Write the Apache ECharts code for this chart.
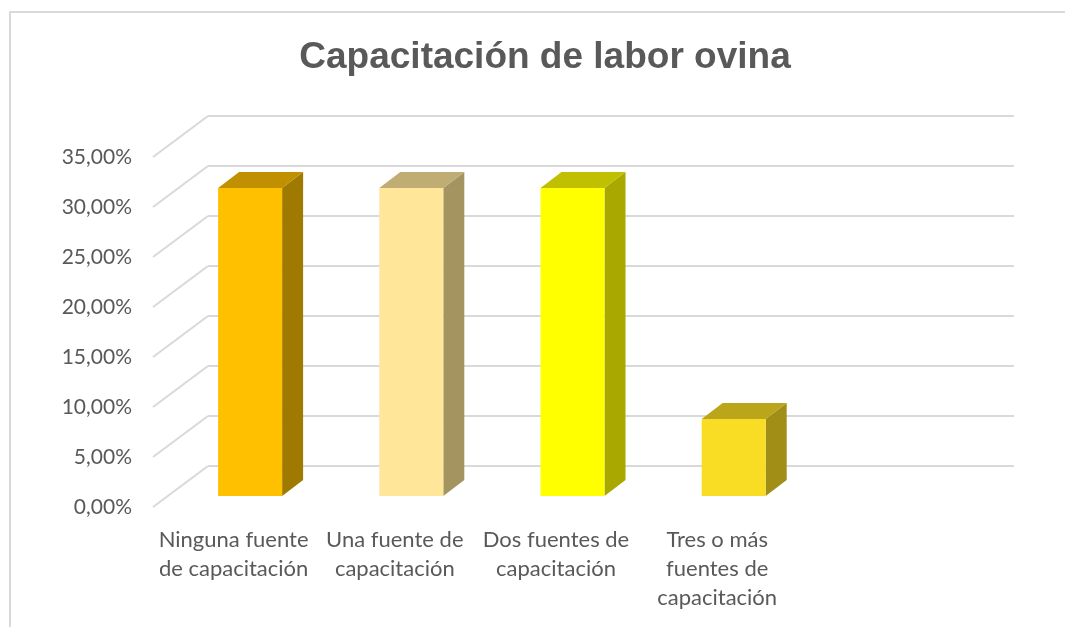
<!DOCTYPE html>
<html>
<head>
<meta charset="utf-8">
<title>Capacitación de labor ovina</title>
<script src="https://cdn.jsdelivr.net/npm/echarts@6/dist/echarts.min.js"></script>
<style>
  html, body { margin: 0; padding: 0; background: #fff; }
  #chart { width: 1065px; height: 627px; }
</style>
</head>
<body>
<div id="chart"></div>
<script>
const categories = [
  'Ninguna fuente\nde capacitación',
  'Una fuente de\ncapacitación',
  'Dos fuentes de\ncapacitación',
  'Tres o más\nfuentes de\ncapacitación',
  ''
]
const values = [30.8, 30.8, 30.8, 7.7]
const yTicks = [0, 5, 10, 15, 20, 25, 30, 35]

const frontColors = ['#FFC000', '#FFE699', '#FFFF00', '#F9DC24']
const topColors = ['#C09000', '#C0AD73', '#C0C000', '#BBA51B']
const sideColors = ['#A07A00', '#A39460', '#A8A800', '#A08E17']

// perspective offset of the back wall from the front plane
const wallDx = 55
const wallDy = -41
// bars stand a little behind the front plane
const barFloorDx = 16.5
const barFloorDy = -11
const barWidth = 64
const barDx = 21
const barDy = -16

const chart = echarts.init(document.getElementById('chart'))

const renderBar = (params, api) => {
  const i = params.dataIndex
  const p = api.coord([api.value(0), api.value(1)])
  const base = api.coord([api.value(0), 0])
  const x0 = p[0] + barFloorDx - barWidth / 2
  const x1 = x0 + barWidth
  const yTop = p[1] + barFloorDy
  const yBot = base[1] + barFloorDy
  return {
    type: 'group',
    children: [
      {
        type: 'polygon',
        shape: { points: [[x1, yTop], [x1 + barDx, yTop + barDy], [x1 + barDx, yBot + barDy], [x1, yBot]] },
        style: { fill: sideColors[i] }
      },
      {
        type: 'polygon',
        shape: { points: [[x0, yTop], [x0 + barDx, yTop + barDy], [x1 + barDx, yTop + barDy], [x1, yTop]] },
        style: { fill: topColors[i] }
      },
      {
        type: 'rect',
        shape: { x: x0, y: yTop, width: barWidth, height: yBot - yTop },
        style: { fill: frontColors[i] }
      }
    ]
  }
}

const renderWallLine = (params, api) => {
  const y = api.coord([0, api.value(0)])[1]
  const x = params.coordSys.x
  return {
    type: 'line',
    shape: { x1: x, y1: y, x2: x + wallDx, y2: y + wallDy },
    style: { stroke: '#D9D9D9', lineWidth: 2 }
  }
}

const option = {
  animation: false,
  backgroundColor: '#fff',
  title: {
    text: 'Capacitación de labor ovina',
    left: 540,
    top: 34,
    textAlign: 'center',
    textStyle: {
      fontFamily: 'Liberation Sans',
      fontSize: 37,
      fontWeight: 'bold',
      color: '#595959'
    }
  },
  grid: [
    { left: 153, top: 157, width: 806, height: 350 },
    { left: 208, top: 116, width: 806, height: 350 }
  ],
  xAxis: [
    {
      type: 'category',
      gridIndex: 0,
      data: categories,
      axisLine: { show: false },
      axisTick: { show: false },
      axisLabel: {
        interval: 0,
        margin: 18,
        fontFamily: 'Lato',
        fontSize: 22,
        lineHeight: 29,
        color: '#595959'
      }
    },
    {
      type: 'category',
      gridIndex: 1,
      data: categories,
      show: false
    }
  ],
  yAxis: [
    {
      type: 'value',
      gridIndex: 0,
      min: 0,
      max: 35,
      interval: 5,
      axisLine: { show: false },
      axisTick: { show: false },
      splitLine: { show: false },
      axisLabel: {
        margin: 21,
        fontFamily: 'Lato',
        fontSize: 21,
        color: '#595959',
        formatter: v => v.toFixed(2).replace('.', ',') + '%'
      }
    },
    {
      type: 'value',
      gridIndex: 1,
      min: 0,
      max: 35,
      interval: 5,
      axisLine: { show: false },
      axisTick: { show: false },
      axisLabel: { show: false },
      splitLine: { show: true, lineStyle: { color: '#D9D9D9', width: 2 } }
    }
  ],
  series: [
    {
      type: 'custom',
      xAxisIndex: 0,
      yAxisIndex: 0,
      renderItem: renderWallLine,
      data: yTicks.map(v => [v]),
      encode: { y: 0 },
      silent: true,
      z: 1
    },
    {
      type: 'custom',
      xAxisIndex: 0,
      yAxisIndex: 0,
      renderItem: renderBar,
      data: values.map((v, i) => [i, v]),
      encode: { x: 0, y: 1 },
      z: 3
    }
  ],
  graphic: [
    {
      type: 'polyline',
      silent: true,
      shape: { points: [[10, 627], [10, 12], [1065, 12]] },
      style: { stroke: '#D9D9D9', lineWidth: 2, fill: 'none' }
    }
  ]
}

chart.setOption(option)

window.addEventListener('resize', () => chart.resize())
</script>
</body>
</html>
